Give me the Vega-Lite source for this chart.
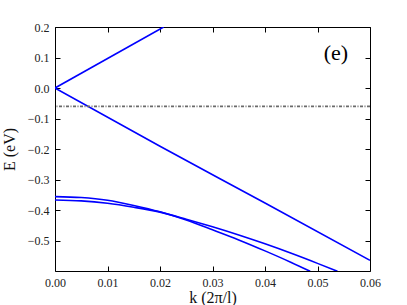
{
  "$schema": "https://vega.github.io/schema/vega-lite/v6.json",
  "width": 315,
  "height": 244,
  "autosize": "none",
  "padding": {"left": 55, "top": 27, "right": 37, "bottom": 34},
  "background": "white",
  "config": {
    "view": {"stroke": "black", "strokeWidth": 1},
    "font": "Liberation Serif, Times New Roman, DejaVu Serif, serif",
    "axis": {
      "grid": false,
      "domain": false,
      "tickColor": "black",
      "tickSize": -5,
      "labelFlush": false,
      "labelOverlap": false,
      "labelFont": "Liberation Serif, Times New Roman, DejaVu Serif, serif",
      "labelFontSize": 12,
      "labelColor": "#222222",
      "titleFont": "Liberation Serif, Times New Roman, DejaVu Serif, serif",
      "titleFontSize": 16,
      "titleFontWeight": "normal",
      "titleColor": "#111111"
    }
  },
  "datasets": {
    "bands": [
      {"band": "L1", "k": 0.0, "E": 0.0},
      {"band": "L1", "k": 0.0207, "E": 0.2},
      {"band": "L2", "k": 0.0, "E": 0.0},
      {"band": "L2", "k": 0.02, "E": -0.191},
      {"band": "L2", "k": 0.04, "E": -0.377},
      {"band": "L2", "k": 0.06, "E": -0.565},
      {"band": "A", "k": 0.0, "E": -0.356},
      {"band": "A", "k": 0.005, "E": -0.359},
      {"band": "A", "k": 0.01, "E": -0.368},
      {"band": "A", "k": 0.015, "E": -0.385},
      {"band": "A", "k": 0.02, "E": -0.406},
      {"band": "A", "k": 0.025, "E": -0.433},
      {"band": "A", "k": 0.03, "E": -0.465},
      {"band": "A", "k": 0.035, "E": -0.498},
      {"band": "A", "k": 0.04, "E": -0.534},
      {"band": "A", "k": 0.045, "E": -0.572},
      {"band": "A", "k": 0.0486, "E": -0.601},
      {"band": "B", "k": 0.0, "E": -0.367},
      {"band": "B", "k": 0.005, "E": -0.37},
      {"band": "B", "k": 0.01, "E": -0.378},
      {"band": "B", "k": 0.015, "E": -0.391},
      {"band": "B", "k": 0.02, "E": -0.407},
      {"band": "B", "k": 0.025, "E": -0.43},
      {"band": "B", "k": 0.03, "E": -0.455},
      {"band": "B", "k": 0.035, "E": -0.482},
      {"band": "B", "k": 0.04, "E": -0.511},
      {"band": "B", "k": 0.045, "E": -0.542},
      {"band": "B", "k": 0.05, "E": -0.575},
      {"band": "B", "k": 0.0538, "E": -0.601}
    ],
    "fermi": [{"E": -0.06}],
    "panel": [{"k": 0.0535, "E": 0.115, "t": "(e)"}]
  },
  "layer": [
    {
      "data": {"name": "bands"},
      "mark": {"type": "line", "color": "#0000ff", "strokeWidth": 1.6, "clip": true, "interpolate": "monotone"},
      "encoding": {
        "x": {
          "field": "k", "type": "quantitative",
          "scale": {"domain": [0, 0.06], "nice": false, "zero": false},
          "axis": {
            "orient": "bottom",
            "values": [0, 0.01, 0.02, 0.03, 0.04, 0.05, 0.06],
            "format": ".2f",
            "labelPadding": 11,
            "title": "k (2π/l)",
            "titlePadding": 1
          }
        },
        "y": {
          "field": "E", "type": "quantitative",
          "scale": {"domain": [-0.6, 0.2], "nice": false, "zero": false},
          "axis": {
            "orient": "left",
            "values": [-0.5, -0.4, -0.3, -0.2, -0.1, 0.0, 0.1, 0.2],
            "format": ".1f",
            "labelPadding": 11,
            "title": "E (eV)",
            "titlePadding": 10
          }
        },
        "detail": {"field": "band"},
        "order": {"field": "k", "type": "quantitative"}
      }
    },
    {
      "data": {"name": "fermi"},
      "mark": {"type": "rule", "color": "#6a6a6a", "strokeWidth": 1.8, "strokeDash": [3, 1.5, 1, 1.5]},
      "encoding": {
        "y": {"field": "E", "type": "quantitative", "axis": null}
      }
    },
    {
      "data": {"name": "panel"},
      "mark": {"type": "text", "fontSize": 22, "align": "center", "baseline": "middle", "color": "black"},
      "encoding": {
        "x": {
          "field": "k", "type": "quantitative",
          "axis": {"orient": "top", "values": [0, 0.01, 0.02, 0.03, 0.04, 0.05, 0.06], "labels": false, "title": null}
        },
        "y": {
          "field": "E", "type": "quantitative",
          "axis": {"orient": "right", "values": [-0.5, -0.4, -0.3, -0.2, -0.1, 0.0, 0.1, 0.2], "labels": false, "title": null}
        },
        "text": {"field": "t"}
      }
    }
  ],
  "resolve": {"axis": {"x": "independent", "y": "independent"}}
}
